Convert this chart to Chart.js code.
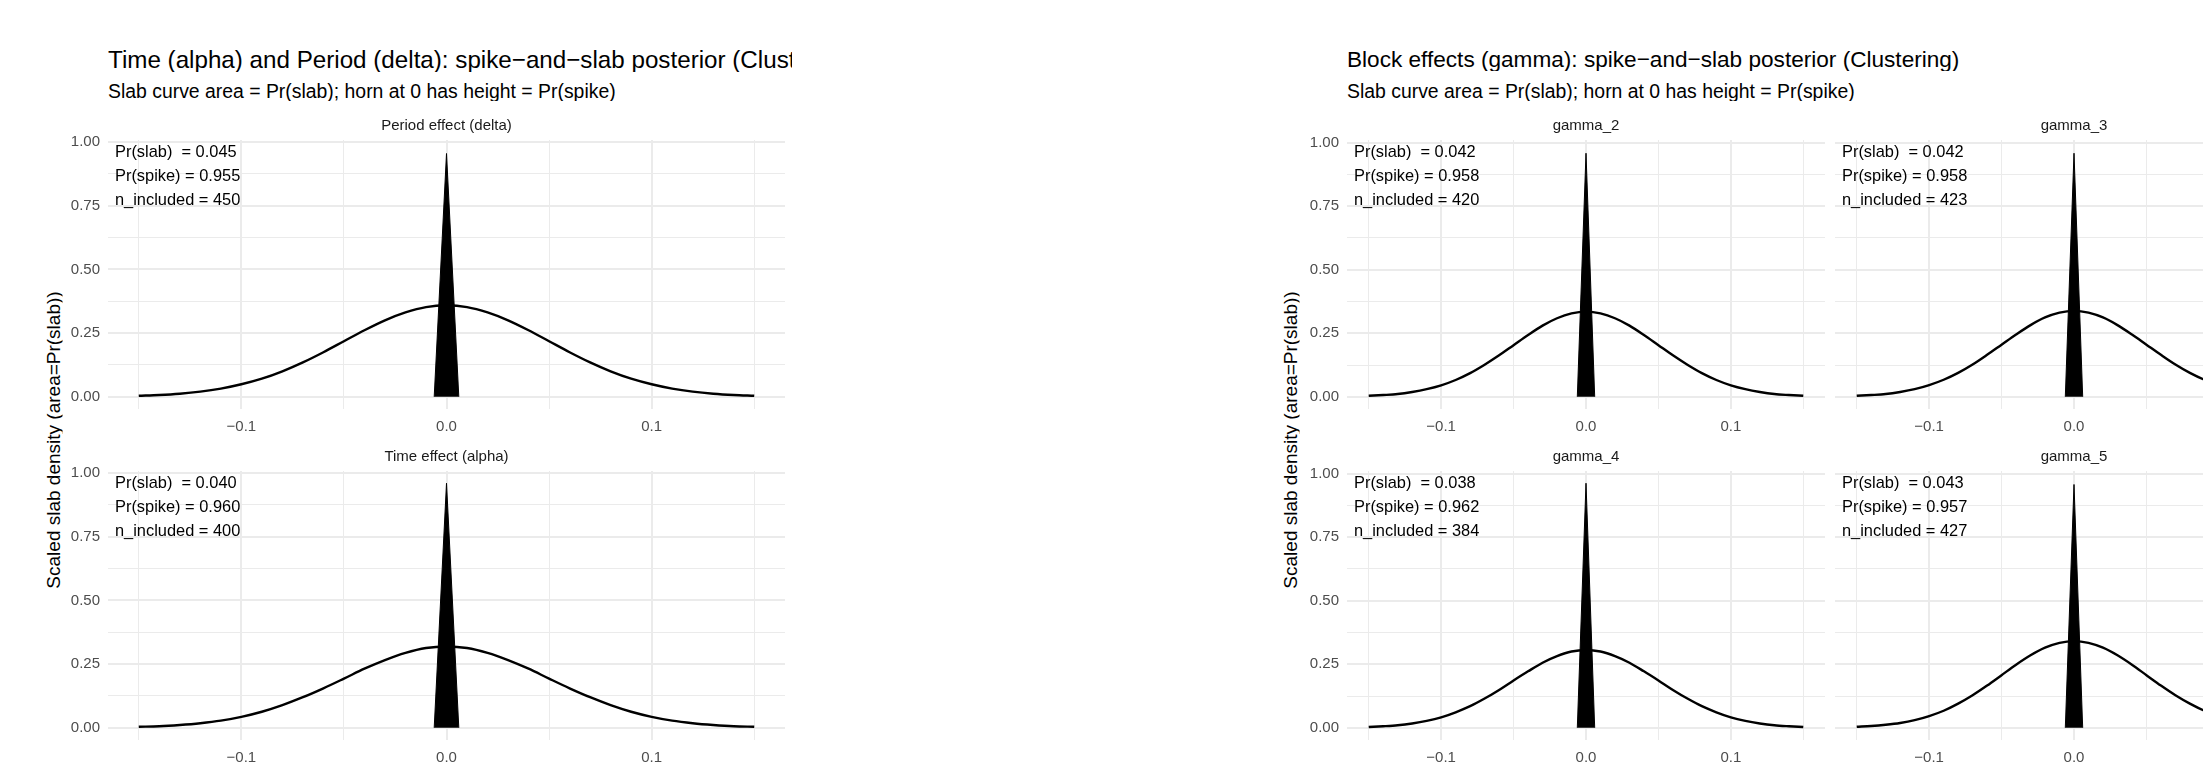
<!DOCTYPE html>
<html>
<head>
<meta charset="utf-8">
<script src="https://cdn.jsdelivr.net/npm/chart.js@4.4.1/dist/chart.umd.min.js"></script>
<style>
  html, body { margin: 0; padding: 0; background: #fff; }
  body { width: 2203px; height: 767px; overflow: hidden; position: relative;
         font-family: "Liberation Sans", Arial, sans-serif; }
  .txt { position: absolute; white-space: nowrap; line-height: 1; color: #000; overflow: hidden; }
  canvas { position: absolute; }
</style>
</head>
<body>
<script>
'use strict';

// ********** DATA **********

const panelNames = ['Period effect (delta)', 'Time effect (alpha)', 'gamma_2', 'gamma_3', 'gamma_4', 'gamma_5'];
const prSlab = [0.045, 0.040, 0.042, 0.042, 0.038, 0.043];
const prSpike = [0.955, 0.960, 0.958, 0.958, 0.962, 0.957];
const nIncluded = [450, 400, 420, 423, 384, 427];

// x grid for the slab curves
const slabX = [-0.15, -0.14, -0.13, -0.12, -0.11, -0.10, -0.09, -0.08, -0.07, -0.06, -0.05, -0.04, -0.03, -0.02, -0.01,
  0, 0.01, 0.02, 0.03, 0.04, 0.05, 0.06, 0.07, 0.08, 0.09, 0.10, 0.11, 0.12, 0.13, 0.14, 0.15];

// slab heights
const slabDelta = [.004, .007, .012, .020, .032, .049, .071, .100, .135, .175, .218, .261, .300, .331, .352, .359,
  .352, .331, .300, .261, .218, .175, .135, .100, .071, .049, .032, .020, .012, .007, .004];
const slabAlpha = [.004, .006, .011, .018, .028, .043, .063, .089, .120, .155, .193, .232, .266, .294, .313, .319,
  .313, .294, .266, .232, .193, .155, .120, .089, .063, .043, .028, .018, .011, .006, .004];
const slabGamma2 = [.004, .007, .011, .019, .030, .045, .066, .093, .126, .163, .203, .243, .280, .309, .328, .335,
  .328, .309, .280, .243, .203, .163, .126, .093, .066, .045, .030, .019, .011, .007, .004];
const slabGamma3 = [.004, .007, .011, .019, .030, .046, .067, .094, .127, .165, .205, .245, .282, .312, .331, .338,
  .331, .312, .282, .245, .205, .165, .127, .094, .067, .046, .030, .019, .011, .007, .004];
const slabGamma4 = [.003, .006, .010, .017, .027, .041, .061, .085, .115, .149, .186, .222, .256, .282, .300, .306,
  .300, .282, .256, .222, .186, .149, .115, .085, .061, .041, .027, .017, .010, .006, .003];
const slabGamma5 = [.004, .007, .012, .019, .030, .046, .067, .095, .128, .166, .207, .248, .285, .315, .334, .341,
  .334, .315, .285, .248, .207, .166, .128, .095, .067, .046, .030, .019, .012, .007, .004];
const slabCurves = [slabDelta, slabAlpha, slabGamma2, slabGamma3, slabGamma4, slabGamma5];

// horn (spike) outline: base half-width around 0
const hornX = [-0.006, 0, 0.006];

// tick labels
const xMajor = [-0.1, 0, 0.1];
const xLabels = ['\u22120.1', '0.0', '0.1'];
const xMinor = [-0.15, -0.05, 0.05, 0.15];
const yMajor = [0, 0.25, 0.5, 0.75, 1];
const yLabels = ['0.00', '0.25', '0.50', '0.75', '1.00'];
const yMinor = [0.125, 0.375, 0.625, 0.875];

// ********** LAYOUT **********

const FONT = '"Liberation Sans", Arial, sans-serif';

// panel boxes in page pixels
const panels = [
  { x: 108,  y: 140, w: 677, h: 269, showY: true,  yMax: 1.008 },
  { x: 108,  y: 471, w: 677, h: 269, showY: true,  yMax: 1.008 },
  { x: 1347, y: 140, w: 478, h: 269, showY: true,  yMax: 1.010 },
  { x: 1835, y: 140, w: 478, h: 269, showY: false, yMax: 1.010 },
  { x: 1347, y: 471, w: 478, h: 269, showY: true,  yMax: 1.010 },
  { x: 1835, y: 471, w: 478, h: 269, showY: false, yMax: 1.010 }
];

// ********** HELPERS **********

function near(v, list) {
  return list.findIndex(m => Math.abs(m - v) < 1e-9);
}

function addText(str, left, baseline, size, opts) {
  let d = document.createElement('div');
  d.className = 'txt';
  d.textContent = str;
  d.style.fontSize = size + 'px';
  d.style.left = left + 'px';
  d.style.top = (baseline - 0.8465 * size) + 'px';
  if (opts && opts.width) d.style.width = opts.width + 'px';
  document.body.appendChild(d);
  return d;
}

function addYTitle(str, cx, cy, size) {
  let d = document.createElement('div');
  d.className = 'txt';
  d.textContent = str;
  d.style.fontSize = size + 'px';
  d.style.left = cx + 'px';
  d.style.top = cy + 'px';
  d.style.transform = 'translate(-50%, -50%) rotate(-90deg)';
  document.body.appendChild(d);
}

// strip label + annotation lines in each panel
const panelText = {
  id: 'panelText',
  afterDraw(chart, args, opts) {
    let i = opts.index;
    let ctx = chart.ctx;
    let a = chart.chartArea;
    ctx.save();
    ctx.textBaseline = 'alphabetic';
    ctx.fillStyle = '#1A1A1A';
    ctx.font = '15px ' + FONT;
    ctx.textAlign = 'center';
    ctx.fillText(panelNames[i], (a.left + a.right) / 2, a.top - 10);

    ctx.fillStyle = '#000';
    ctx.font = '16.4px ' + FONT;
    ctx.textAlign = 'left';
    let lines = [
      'Pr(slab)  = ' + prSlab[i].toFixed(3),
      'Pr(spike) = ' + prSpike[i].toFixed(3),
      'n_included = ' + nIncluded[i]
    ];
    lines.forEach((t, k) => ctx.fillText(t, a.left + 7, a.top + 16.5 + k * 24));
    ctx.restore();
  }
};

function makePanel(i) {
  let box = panels[i];
  let yw = box.showY ? 60 : 0;
  let stripH = 32, xh = 36;
  let w = box.w + yw, h = stripH + box.h + xh;

  let cv = document.createElement('canvas');
  cv.width = w; cv.height = h;
  cv.style.width = w + 'px'; cv.style.height = h + 'px';
  cv.style.left = (box.x - yw) + 'px';
  cv.style.top = (box.y - stripH) + 'px';
  document.body.appendChild(cv);

  let curve = slabX.map((x, k) => ({ x: x, y: slabCurves[i][k] }));
  let horn = hornX.map((x, k) => ({ x: x, y: k === 1 ? prSpike[i] : 0 }));

  new Chart(cv, {
    type: 'line',
    data: {
      datasets: [
        { data: curve, borderColor: '#000', borderWidth: 2.4, pointRadius: 0,
          cubicInterpolationMode: 'monotone', fill: false },
        { data: horn, borderColor: '#000', backgroundColor: '#000', borderWidth: 1,
          pointRadius: 0, tension: 0, fill: 'origin' }
      ]
    },
    options: {
      responsive: false,
      animation: false,
      devicePixelRatio: 1,
      layout: { padding: { top: stripH, left: 0, right: 0, bottom: 0 } },
      plugins: { legend: { display: false }, tooltip: { enabled: false }, panelText: { index: i } },
      scales: {
        x: {
          type: 'linear', min: -0.165, max: 0.165,
          border: { display: false },
          afterBuildTicks: s => { s.ticks = xMinor.concat(xMajor).sort((p, q) => p - q).map(v => ({ value: v })); },
          afterFit: s => { s.height = xh; },
          grid: { color: '#EBEBEB', drawTicks: false,
                  lineWidth: c => (c.tick && near(c.tick.value, xMajor) >= 0 ? 2 : 1) },
          ticks: { padding: 8.5, color: '#4D4D4D', font: { family: FONT, size: 15 },
                   maxRotation: 0, autoSkip: false,
                   callback: v => { let k = near(v, xMajor); return k >= 0 ? xLabels[k] : ''; } }
        },
        y: {
          type: 'linear', min: -0.048, max: box.yMax,
          border: { display: false },
          afterBuildTicks: s => { s.ticks = yMinor.concat(yMajor).sort((p, q) => p - q).map(v => ({ value: v })); },
          afterFit: s => { s.width = yw; },
          grid: { color: '#EBEBEB', drawTicks: false,
                  lineWidth: c => (c.tick && near(c.tick.value, yMajor) >= 0 ? 2 : 1) },
          ticks: { display: box.showY, padding: 8, color: '#4D4D4D', font: { family: FONT, size: 15 },
                   autoSkip: false,
                   callback: v => { let k = near(v, yMajor); return k >= 0 ? yLabels[k] : ''; } }
        }
      }
    },
    plugins: [panelText]
  });
}

// ********** EXECUTABLE **********

addText('Time (alpha) and Period (delta): spike\u2212and\u2212slab posterior (Clustering)', 108, 68, 24.2, { width: 684 });
addText('Slab curve area = Pr(slab); horn at 0 has height = Pr(spike)', 108, 98, 19.4);
addYTitle('Scaled slab density (area=Pr(slab))', 52.5, 440, 19);

addText('Block effects (gamma): spike\u2212and\u2212slab posterior (Clustering)', 1347, 68, 22.6);
addText('Slab curve area = Pr(slab); horn at 0 has height = Pr(spike)', 1347, 98, 19.4);
addYTitle('Scaled slab density (area=Pr(slab))', 1290, 440, 19);

for (let i = 0; i < panels.length; i++) makePanel(i);
</script>
</body>
</html>
